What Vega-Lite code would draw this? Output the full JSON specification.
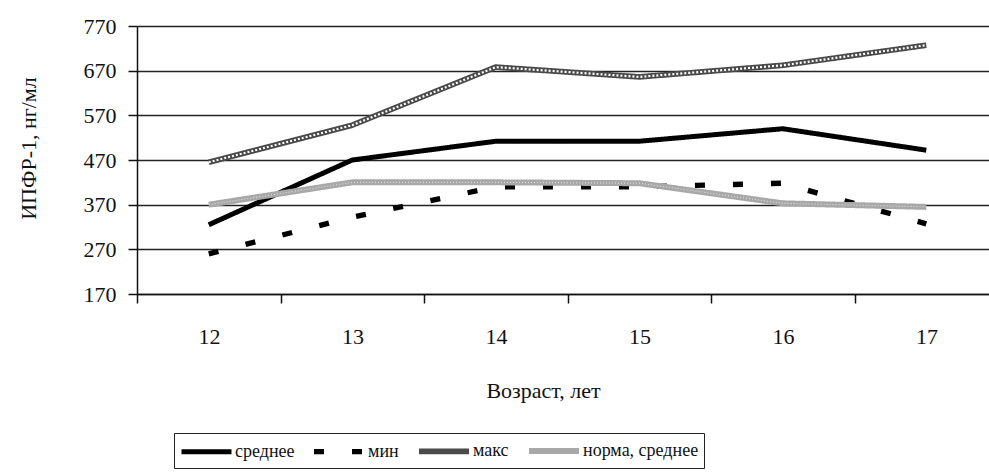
{
  "$schema": "https://vega.github.io/schema/vega-lite/v6.json",
  "width": 852,
  "height": 268,
  "autosize": "none",
  "padding": {"left": 137, "top": 26, "right": 0, "bottom": 181},
  "background": "white",
  "config": {
    "view": {"stroke": null},
    "font": "Liberation Serif",
    "style": {"guide-label": {"font": "Liberation Serif"}, "guide-title": {"font": "Liberation Serif"}},
    "axis": {"labelFont": "Liberation Serif", "titleFont": "Liberation Serif", "labelColor": "#111", "titleColor": "#111", "titleFontWeight": "normal"},
    "legend": {"labelFont": "Liberation Serif"}
  },
  "data": {
    "values": [
      {"age": 12, "series": "среднее", "value": 325},
      {"age": 13, "series": "среднее", "value": 470},
      {"age": 14, "series": "среднее", "value": 512},
      {"age": 15, "series": "среднее", "value": 512},
      {"age": 16, "series": "среднее", "value": 540},
      {"age": 17, "series": "среднее", "value": 492},
      {"age": 12, "series": "мин", "value": 260},
      {"age": 13, "series": "мин", "value": 342},
      {"age": 14, "series": "мин", "value": 410},
      {"age": 15, "series": "мин", "value": 410},
      {"age": 16, "series": "мин", "value": 418},
      {"age": 17, "series": "мин", "value": 327},
      {"age": 12, "series": "макс", "value": 465},
      {"age": 13, "series": "макс", "value": 548},
      {"age": 14, "series": "макс", "value": 678},
      {"age": 15, "series": "макс", "value": 656},
      {"age": 16, "series": "макс", "value": 682},
      {"age": 17, "series": "макс", "value": 727},
      {"age": 12, "series": "норма, среднее", "value": 370},
      {"age": 13, "series": "норма, среднее", "value": 420},
      {"age": 14, "series": "норма, среднее", "value": 420},
      {"age": 15, "series": "норма, среднее", "value": 418},
      {"age": 16, "series": "норма, среднее", "value": 373},
      {"age": 17, "series": "норма, среднее", "value": 365}
    ]
  },
  "encoding": {
    "x": {
      "field": "age", "type": "quantitative",
      "scale": {"domain": [11.5, 17.437], "nice": false, "zero": false},
      "axis": {
        "values": [11.5, 12.5, 13.5, 14.5, 15.5, 16.5],
        "labelExpr": "format(datum.value + 0.5, 'd')",
        "labelOffset": 72,
        "labelFontSize": 22,
        "labelBaseline": "middle",
        "labelPadding": 33,
        "labelFlush": false,
        "labelBound": false,
        "tickSize": 9,
        "tickColor": "#111",
        "tickWidth": 1.5,
        "domainColor": "#111",
        "domainWidth": 1.5,
        "grid": false,
        "title": "Возраст, лет",
        "titleFontSize": 22,
        "titleBaseline": "middle",
        "titleX": 406,
        "titleY": 96
      }
    },
    "y": {
      "field": "value", "type": "quantitative",
      "scale": {"domain": [170, 770], "nice": false, "zero": false},
      "axis": {
        "values": [170, 270, 370, 470, 570, 670, 770],
        "labelFontSize": 22,
        "labelPadding": 12,
        "tickSize": 9,
        "tickColor": "#111",
        "tickWidth": 1.5,
        "domainColor": "#111",
        "domainWidth": 1.5,
        "grid": true,
        "gridColor": "#222",
        "gridWidth": 1.6,
        "title": "ИПФР-1, нг/мл",
        "titleFontSize": 22,
        "titleBaseline": "middle",
        "titleX": -109,
        "titleY": 122
      }
    }
  },
  "layer": [
    {
      "mark": {"type": "line", "strokeCap": "butt"},
      "encoding": {
        "color": {
          "field": "series", "type": "nominal",
          "scale": {"domain": ["среднее", "мин", "макс", "норма, среднее"], "range": ["#000000", "#000000", "#4a4a4a", "#a8a8a8"]},
          "legend": {
            "title": null,
            "orient": "none",
            "legendX": 37,
            "legendY": 407,
            "direction": "horizontal",
            "symbolType": "M-1,0H4",
            "symbolSize": 400,
            "symbolFillColor": "transparent",
            "labelFont": "Liberation Serif",
            "labelFontSize": 18,
            "labelColor": "#111",
            "labelOffset": 31,
            "columnPadding": 8,
            "padding": 5,
            "strokeColor": "#222",
            "encode": {"labels": {"update": {"font": {"value": "Liberation Serif"}}}}
          }
        },
        "strokeDash": {
          "field": "series", "type": "nominal",
          "scale": {"domain": ["среднее", "мин", "макс", "норма, среднее"], "range": [[1, 0], [10, 28], [1, 0], [1, 0]]},
          "legend": null
        },
        "strokeWidth": {
          "field": "series", "type": "nominal",
          "scale": {"domain": ["среднее", "мин", "макс", "норма, среднее"], "range": [5, 6, 5, 6]},
          "legend": null
        }
      }
    },
    {
      "transform": [{"filter": "datum.series === 'макс'"}],
      "mark": {"type": "line", "stroke": "white", "strokeWidth": 2.2, "strokeDash": [2, 2]},
      "encoding": {"detail": {"field": "series"}}
    },
    {
      "transform": [{"filter": "datum.series === 'норма, среднее'"}],
      "mark": {"type": "line", "stroke": "white", "strokeWidth": 1, "strokeDash": [1, 2], "opacity": 0.7},
      "encoding": {"detail": {"field": "series"}}
    }
  ]
}
